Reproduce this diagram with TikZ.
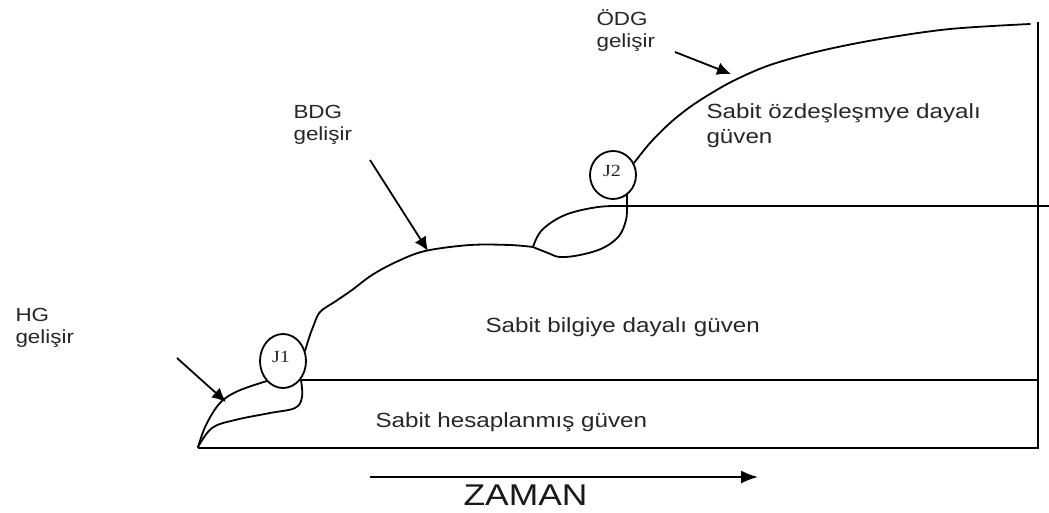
\documentclass[tikz,border=0pt]{standalone}
\usepackage{fontspec}
\setmainfont{Liberation Sans}[FakeStretch=1.18]
\newfontfamily\jfont{Liberation Serif}[FakeStretch=1.18]
\usetikzlibrary{arrows.meta,shapes.geometric}
\begin{document}
\begin{tikzpicture}[x=1pt,y=-1pt,
  curve/.style={line width=1.8pt,line join=round,line cap=round},
  rule/.style={line width=1.8pt},
  pointer/.style={line width=1.8pt,-{Latex[length=14pt,width=13pt]}},
  junction/.style={ellipse,draw,line width=1.8pt,inner sep=0pt,minimum width=46pt,minimum height=54pt},
  jlabel/.style={font=\jfont\fontsize{17}{17}\selectfont,text=black!85},
  label/.style={anchor=base west,align=left,text=black!85,font=\fontsize{19}{22}\selectfont},
  phase/.style={anchor=base west,align=left,text=black!85,font=\fontsize{20.5}{25}\selectfont}]
\useasboundingbox (0,0) rectangle (1049,512);

% junctions
\node[junction] (J1) at (283,361) {};
\node[jlabel] (J1t) at (281,357) {J1};
\node[junction,minimum width=46pt,minimum height=48pt] (J2) at (613,175) {};
\node[jlabel] (J2t) at (612,171) {J2};

% frame: time axis, right edge, phase boundaries
\coordinate (o) at (198,448);
\coordinate (br) at (1038,448);
\coordinate (tr) at (1038,22);
\coordinate (a1) at (301,380);
\coordinate (b1) at (1038,380);
\coordinate (a2) at (627,206);
\coordinate (b2) at (1049,206);
\draw[rule] (o) -- (br) -- (tr);
\draw[rule] (a1) -- (b1);
\draw[rule] (a2) -- (b2);

% HG loop
\draw[curve] plot[smooth,tension=0.6] coordinates {(198,447) (206,425) (220,403) (238,391) (267,381)};
\draw[curve] plot[smooth,tension=0.6] coordinates {(198,447) (212,428) (235,420) (270,413) (295,408) (302,397) (301,380)};

% rise of knowledge-based trust
\draw[curve] plot[smooth,tension=0.55] coordinates {(305,351) (309,338) (313,327) (320,312) (336,301) (352,290) (372,275) (396,262) (425,251) (470,245) (510,245) (533,247)};

% J2 loop
\draw[curve] plot[smooth,tension=0.6] coordinates {(533,247) (542,230) (565,215) (598,207) (627,206)};
\draw[curve] plot[smooth,tension=0.6] coordinates {(533,247) (548,253) (560,257) (580,255) (603,248) (619,236) (626,220) (627,206) (627,194)};

% rise of identification-based trust
\draw[curve] plot[smooth,tension=0.55] coordinates {(634,163) (650,143) (670,123) (690,107) (710,94) (735,80) (770,65) (820,51) (880,39) (950,29) (1030,24)};

% labels and their pointers (base = last line)
\node[label] (hg) at (12,343) {HG\\gelişir};
\coordinate (hgs) at (177,358);
\coordinate (hge) at (226,402);
\draw[pointer] (hgs) -- (hge);

\node[label] (bdg) at (290,140) {BDG\\gelişir};
\coordinate (bdgs) at (370,160);
\coordinate (bdge) at (428,251);
\draw[pointer] (bdgs) -- (bdge);

\node[label] (odg) at (593,47) {ÖDG\\gelişir};
\coordinate (odgs) at (675,52);
\coordinate (odge) at (731,74);
\draw[pointer] (odgs) -- (odge);

% trust phases
\node[phase] (p3) at (703,143) {Sabit özdeşleşmye dayalı\\güven};
\node[phase] (p2) at (482,332) {Sabit bilgiye dayalı güven};
\node[phase] (p1) at (372,427) {Sabit hesaplanmış güven};

% time arrow
\coordinate (zs) at (370,477);
\coordinate (ze) at (758,477);
\draw[line width=1.8pt,-{Latex[length=17pt,width=13pt]}] (zs) -- (ze);
\node[anchor=base west,text=black!90,font=\fontsize{30}{30}\selectfont] (zaman) at (460,505) {ZAMAN};
\end{tikzpicture}
\end{document}
